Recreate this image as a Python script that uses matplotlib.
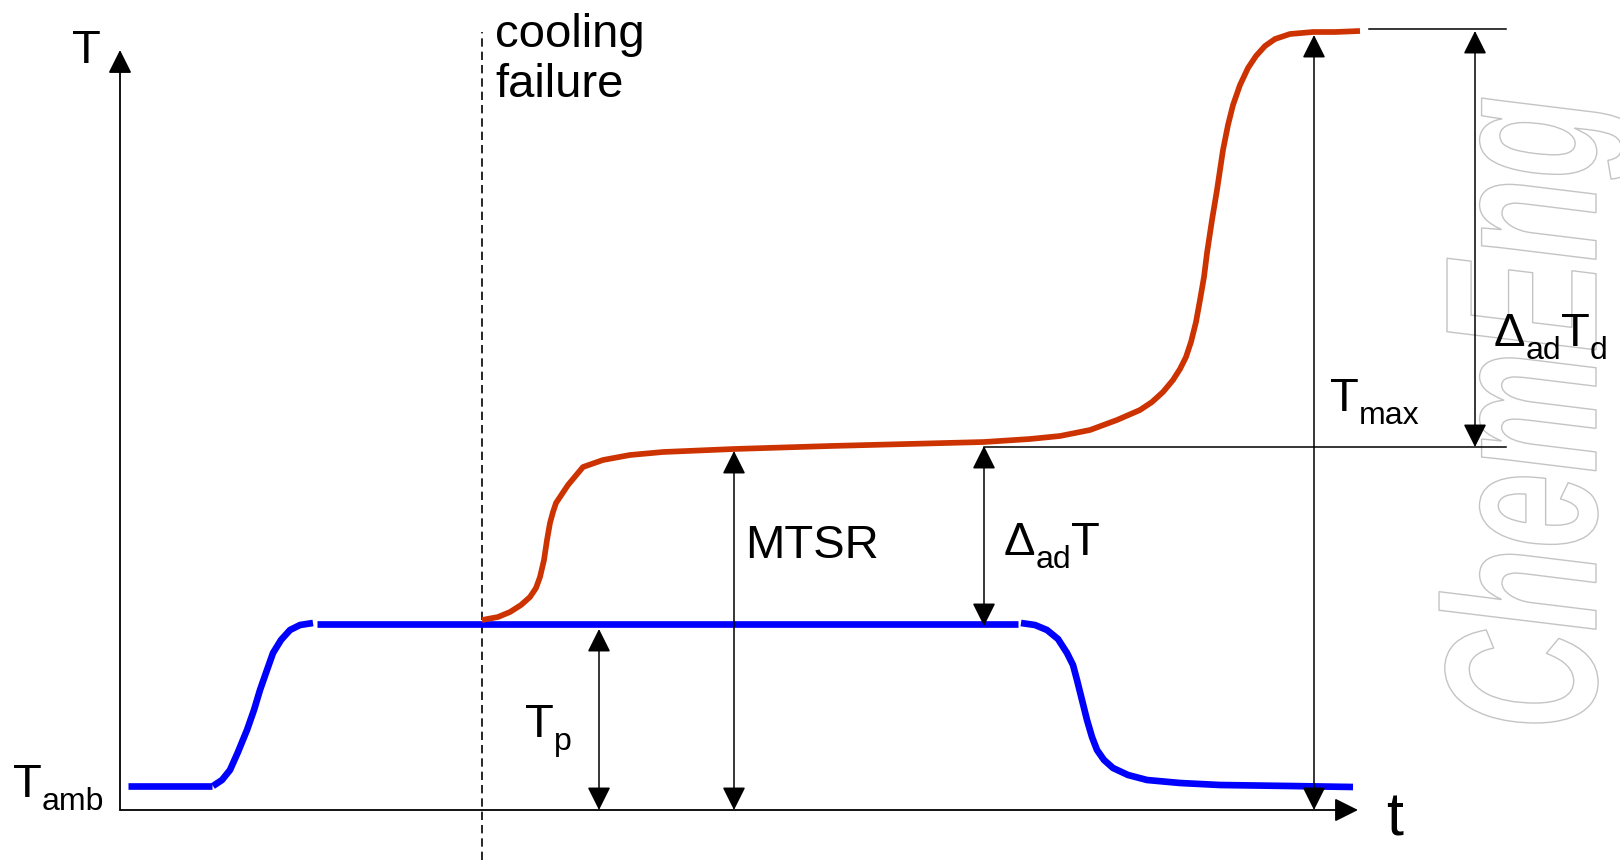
import matplotlib
matplotlib.use('Agg')
import matplotlib.pyplot as plt
from matplotlib.textpath import TextPath
from matplotlib.patches import PathPatch
from matplotlib.font_manager import FontProperties
from matplotlib.transforms import Affine2D

plt.rcParams['font.family'] = ['Liberation Sans', 'DejaVu Sans']

# time (px-like units) and temperature (height above the t axis)
t_amb = [128, 212]
T_amb = [24, 24]

t_heat = [213, 222, 230, 238, 247, 254, 260, 267, 273, 281, 290, 300, 313]
T_heat = [24, 30, 40, 58, 80, 100, 120, 140, 157, 170, 180, 185, 187]

t_plateau = [317, 1018]
T_plateau = [186, 186]

t_cool = [1021, 1035, 1047, 1058, 1067, 1073, 1077, 1082, 1087, 1092, 1097,
          1104, 1113, 1128, 1147, 1180, 1220, 1290, 1353]
T_cool = [187, 185, 180, 171, 157, 145, 130, 110, 90, 73, 60, 50, 42, 35,
          30, 27, 25, 24, 23]

t_runaway = [482, 498, 510, 521, 530, 536, 540, 544, 547, 550, 553, 556, 560,
             564, 568, 573, 583, 603, 630, 663, 734, 830, 984, 1030, 1060,
             1090, 1117, 1140, 1152, 1163, 1173, 1180, 1186, 1191, 1196, 1200,
             1204, 1207, 1212, 1217, 1223, 1228, 1233, 1240, 1248, 1256, 1265,
             1275, 1290, 1313, 1335, 1360]
T_runaway = [190, 193, 198, 205, 213, 222, 233, 250, 270, 287, 298, 307, 313,
             319, 325, 331, 343, 350, 355, 358, 361, 364, 368, 371, 374,
             380, 390, 400, 408, 418, 430, 441, 453, 468, 488, 510,
             533, 557, 590, 620, 660, 685, 705, 725, 742, 754, 764,
             771, 776, 778, 778, 779]

T_process = 186
MTSR = 362
T_max = 779

fig = plt.figure(figsize=(16.2, 8.6), dpi=100)
fig.set_facecolor('white')
ax = fig.add_axes([0, 0, 1, 1])
ax.set_xlim(0, 1620)
ax.set_ylim(-50, 810)
ax.axis('off')
renderer = fig.canvas.get_renderer()

# watermark
fp = FontProperties(family='Liberation Sans', weight='bold', style='italic')
tp = TextPath((0, 0), 'ChemEng', size=1, prop=fp)
cap = TextPath((0, 0), 'E', size=1, prop=fp).get_extents().height
ext = tp.get_extents()
tr = (Affine2D().translate(-ext.x0, 0)
      .scale(625 / ext.width, 149 / cap)
      .rotate_deg(90)
      .translate(1596, 87))
ax.add_patch(PathPatch(tr.transform_path(tp), facecolor='white',
                       edgecolor='#c4c4c4', lw=1.0, zorder=0))

blue = '#0000ff'
red = '#cc3300'
for tt, TT in [(t_amb, T_amb), (t_heat, T_heat), (t_plateau, T_plateau),
               (t_cool, T_cool)]:
    ax.plot(tt, TT, color=blue, lw=4.8, solid_capstyle='butt',
            solid_joinstyle='round', zorder=3)
ax.plot(t_runaway, T_runaway, color=red, lw=4.1, solid_capstyle='butt',
        solid_joinstyle='round', zorder=3)

arrow = dict(arrowstyle='-|>,head_length=0.4,head_width=0.2',
             mutation_scale=36, lw=1.3, color='black', shrinkA=0, shrinkB=0)
darrow = dict(arrow, arrowstyle='<|-|>,head_length=0.4,head_width=0.2', lw=1.1)

# axes
ax.annotate('', xy=(1358, 0), xytext=(120, 0), arrowprops=arrow, zorder=4)
ax.annotate('', xy=(120, 760), xytext=(120, 0), arrowprops=arrow, zorder=4)

# cooling failure line
ax.plot([482, 482], [-50, 778], color='black', lw=1.2,
        linestyle=(0, (5, 3)), zorder=2)

# dimension arrows
ax.annotate('', xy=(599, T_process - 5), xytext=(599, 0),
            arrowprops=darrow, zorder=4)
ax.annotate('', xy=(734, MTSR - 3), xytext=(734, 0),
            arrowprops=darrow, zorder=4)
ax.annotate('', xy=(984, MTSR + 2), xytext=(984, T_process - 2),
            arrowprops=darrow, zorder=4)
ax.annotate('', xy=(1314, T_max - 4), xytext=(1314, 0),
            arrowprops=darrow, zorder=4)
ax.annotate('', xy=(1475, T_max), xytext=(1475, MTSR + 1),
            arrowprops=darrow, zorder=4)
ax.plot([984, 1506], [MTSR + 1, MTSR + 1], color='black', lw=1.1, zorder=2)
ax.plot([1369, 1506], [T_max + 2, T_max + 2], color='black', lw=1.1, zorder=2)

fs = 34
fs_sub = 23
drop = 13


def label(x, y, parts):
    # parts: list of (text, is_subscript); 1 data unit == 1 pixel here
    for s, sub in parts:
        txt = ax.text(x, y - drop if sub else y, s,
                      fontsize=fs_sub if sub else fs, va='baseline', ha='left')
        x += txt.get_window_extent(renderer).width


ax.text(72, 747, 'T', fontsize=fs, va='baseline', ha='left')
ax.text(1386, -25, 't', fontsize=44, va='baseline', ha='left')
ax.text(495, 763, 'cooling', fontsize=fs, va='baseline')
ax.text(495, 713, 'failure', fontsize=fs, va='baseline')
ax.text(745, 252, 'MTSR', fontsize=fs, va='baseline')
label(13, 13, [('T', False), ('amb', True)])
label(525, 73, [('T', False), ('p', True)])
label(1004, 255, [('Δ', False), ('ad', True), ('T', False)])
label(1330, 399, [('T', False), ('max', True)])
label(1494, 464, [('Δ', False), ('ad', True), ('T', False), ('d', True)])

fig.savefig('out.png', dpi=100, facecolor='white')
